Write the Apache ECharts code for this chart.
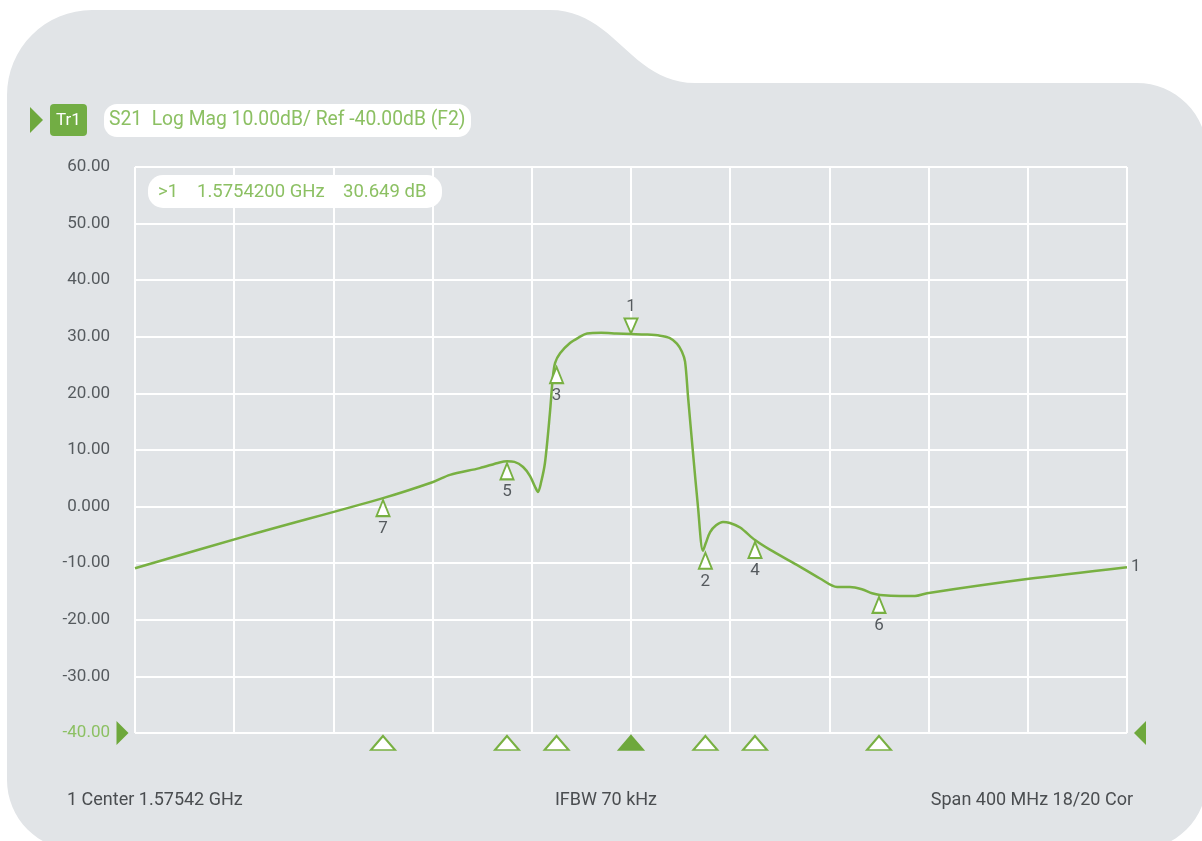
<!DOCTYPE html>
<html>
<head>
<meta charset="utf-8">
<script src="https://cdn.jsdelivr.net/npm/echarts@6/dist/echarts.min.js"></script>
<style>
html,body{margin:0;padding:0;background:#fff;}
#chart{width:1202px;height:841px;}
</style>
</head>
<body>
<div id="chart"></div>
<script>
// ---- data (frequency offset from center in MHz, magnitude in dB) ----
const traceX = [-200, -153.6, -100, -79.8, -73, -61, -53, -50, -47, -43.5, -40.7, -38.7, -37.5, -36.3, -34.7, -32.7, -31.5, -30.6, -28.6, -24.6, -21, -17.7, -12, -6, 0, 6, 11.7, 15.5, 18.5, 20.5, 21.8, 23.0, 25.0, 27.0, 29.0, 30.2, 31.9, 34.3, 37.1, 39.9, 44.0, 50.0, 56.0, 66.9, 76.2, 83.1, 88.3, 93.1, 97.2, 100.4, 108.5, 114.5, 119.4, 159.7, 200];
const traceY = [-10.9, -5.0, 1.5, 4.35, 5.6, 6.8, 7.8, 8.0, 7.9, 7.0, 5.4, 3.5, 2.6, 4.2, 7.7, 16.5, 22.9, 25.4, 27.1, 28.9, 29.9, 30.6, 30.7, 30.6, 30.5, 30.4, 30.2, 29.8, 28.8, 27.4, 25.6, 19.4, 9.5, 0.0, -7.8, -6.4, -4.5, -3.3, -2.7, -2.9, -3.7, -5.9, -7.6, -10.3, -12.7, -14.2, -14.2, -14.6, -15.3, -15.6, -15.8, -15.8, -15.3, -12.8, -10.7];
const markerIds = ['1', '2', '3', '4', '5', '6', '7'];
const markerX = [0, 30, -30, 50, -50, 100, -100];
const markerY = [30.5, -7.8, 25.0, -5.9, 8.0, -15.6, 1.5];
const activeMarker = '1';
const yTicks = [-40, -30, -20, -10, 0, 10, 20, 30, 40, 50, 60];
const headerTrace = 'Tr1';
const headerText = 'S21  Log Mag 10.00dB/ Ref -40.00dB (F2)';
const readoutParts = ['>1', '1.5754200 GHz', '30.649 dB'];
const footerLeft = '1 Center 1.57542 GHz';
const footerMid = 'IFBW 70 kHz';
const footerRight = 'Span 400 MHz 18/20 Cor';

// ---- styles ----
const GREEN = '#78b042';
const DARKGREEN = '#6ea83c';
const LIGHTGREEN = '#8cc063';
const GRAY = '#555a5e';
const PANEL = '#e1e4e7';
const FONT = 'Roboto, "Noto Sans", sans-serif';

// panel outline (decorative background shape)
function panelPoints() {
  const pts = [];
  const arc = (cx, cy, r, a0, a1) => {
    for (let k = 0; k <= 16; k++) {
      const a = a0 + (a1 - a0) * k / 16;
      pts.push([cx + r * Math.cos(a), cy + r * Math.sin(a)]);
    }
  };
  const bez = (p0, p1, p2, p3) => {
    for (let k = 0; k <= 24; k++) {
      const t = k / 24, u = 1 - t;
      pts.push([u*u*u*p0[0] + 3*u*u*t*p1[0] + 3*u*t*t*p2[0] + t*t*t*p3[0],
                u*u*u*p0[1] + 3*u*u*t*p1[1] + 3*u*t*t*p2[1] + t*t*t*p3[1]]);
    }
  };
  arc(92, 95, 85, Math.PI, 1.5 * Math.PI);
  bez([550, 10], [615, 10], [630, 83], [695, 83]);
  arc(1137, 153, 70, 1.5 * Math.PI, 2 * Math.PI);
  arc(1137, 780, 70, 0, 0.5 * Math.PI);
  arc(77, 780, 70, 0.5 * Math.PI, Math.PI);
  return pts;
}

const chart = echarts.init(document.getElementById('chart'), null, {renderer: 'canvas'});

const tracePts = traceX.map((x, i) => [x, traceY[i]]);
const upMarkers = [], downMarkers = [], rowMarkers = [];
markerIds.forEach((id, i) => {
  const p = {name: id, value: [markerX[i], markerY[i]]};
  if (id === activeMarker) downMarkers.push(p); else upMarkers.push(p);
  rowMarkers.push({
    name: id, value: [markerX[i], yTicks[0]],
    itemStyle: id === activeMarker ? {color: DARKGREEN, borderColor: DARKGREEN} : {color: '#fff', borderColor: GREEN}
  });
});

const readoutX = [158, 197, 343];

const option = {
  animation: false,
  backgroundColor: '#ffffff',
  graphic: [
    {type: 'polygon', z: -10, silent: true, shape: {points: panelPoints()}, style: {fill: PANEL}},
    {type: 'polygon', z: 100, shape: {points: [[30, 107], [43, 120], [30, 133]]}, style: {fill: DARKGREEN}},
    {type: 'rect', z: 100, shape: {x: 50, y: 104, width: 37, height: 32, r: 4}, style: {fill: '#72ad44'}},
    {type: 'text', z: 101, x: 68.5, y: 120.5, style: {text: headerTrace, fill: '#fff', font: '17px ' + FONT, align: 'center', verticalAlign: 'middle'}},
    {type: 'rect', z: 100, shape: {x: 104, y: 104, width: 367, height: 33, r: 13}, style: {fill: '#fff'}},
    {type: 'text', z: 101, x: 109, y: 120.5, style: {text: headerText, fill: LIGHTGREEN, font: '19.3px ' + FONT, verticalAlign: 'middle'}},
    {type: 'rect', z: 100, shape: {x: 148, y: 175, width: 294, height: 33, r: 15}, style: {fill: '#fff'}}
  ].concat(readoutParts.map((t, i) => (
    {type: 'text', z: 101, x: readoutX[i], y: 192, style: {text: t, fill: LIGHTGREEN, font: '18.5px ' + FONT, verticalAlign: 'middle'}}
  ))).concat([
    {type: 'text', z: 100, x: 67, y: 800, style: {text: footerLeft, fill: '#4a4d50', font: '18px ' + FONT, verticalAlign: 'middle'}},
    {type: 'text', z: 100, x: 606, y: 800, style: {text: footerMid, fill: '#4a4d50', font: '18px ' + FONT, align: 'center', verticalAlign: 'middle'}},
    {type: 'text', z: 100, x: 1133, y: 800, style: {text: footerRight, fill: '#4a4d50', font: '18px ' + FONT, align: 'right', verticalAlign: 'middle'}}
  ]),
  grid: {left: 135, top: 167, width: 992, height: 566, containLabel: false},
  xAxis: {
    type: 'value', min: -200, max: 200, interval: 40,
    axisLabel: {show: false}, axisTick: {show: false},
    axisLine: {show: true, lineStyle: {color: '#fff', width: 2}},
    splitLine: {show: true, showMinLine: true, showMaxLine: true, lineStyle: {color: '#fff', width: 2}}
  },
  yAxis: {
    type: 'value', min: yTicks[0], max: yTicks[yTicks.length - 1], interval: 10,
    axisTick: {show: false},
    axisLine: {show: true, lineStyle: {color: '#fff', width: 2}},
    splitLine: {show: true, showMinLine: true, showMaxLine: true, lineStyle: {color: '#fff', width: 2}},
    axisLabel: {
      margin: 25, fontSize: 17, fontFamily: FONT, color: GRAY,
      formatter: v => {
        const s = v === 0 ? '0.000' : v.toFixed(2);
        return v === yTicks[0] ? '{g|' + s + '}' : s;
      },
      rich: {g: {color: LIGHTGREEN, fontSize: 17, fontFamily: FONT}}
    }
  },
  series: [
    {
      type: 'line', data: tracePts, smooth: 0.3, showSymbol: false, z: 5,
      lineStyle: {color: GREEN, width: 2.5},
      endLabel: {show: true, formatter: '1', color: GRAY, fontSize: 17, fontFamily: FONT, distance: 4}
    },
    {
      type: 'scatter', data: upMarkers, z: 6, clip: false,
      symbol: 'path://M5,0 L10,10 L0,10 Z', symbolSize: [13, 16], symbolOffset: [0, 10],
      itemStyle: {color: '#fff', borderColor: GREEN, borderWidth: 2, opacity: 1},
      label: {show: true, position: 'bottom', distance: 3, formatter: p => p.name, color: GRAY, fontSize: 17, fontFamily: FONT}
    },
    {
      type: 'scatter', data: downMarkers, z: 6, clip: false,
      symbol: 'path://M0,0 L10,0 L5,10 Z', symbolSize: [13, 15], symbolOffset: [0, -8],
      itemStyle: {color: '#fff', borderColor: GREEN, borderWidth: 2, opacity: 1},
      label: {show: true, position: 'top', distance: 2, formatter: p => p.name, color: GRAY, fontSize: 17, fontFamily: FONT}
    },
    {
      type: 'scatter', data: rowMarkers, z: 6, clip: false,
      symbol: 'path://M5,0 L10,10 L0,10 Z', symbolSize: [24, 14], symbolOffset: [0, 10],
      itemStyle: {borderWidth: 2, opacity: 1}
    },
    {
      type: 'scatter', z: 6, clip: false,
      data: [{value: [-200, yTicks[0]], symbol: 'path://M0,0 L10,10 L0,20 Z', symbolOffset: [-12.5, 0]},
             {value: [200, yTicks[0]], symbol: 'path://M10,0 L0,10 L10,20 Z', symbolOffset: [13, 0]}],
      symbolSize: [12, 24],
      itemStyle: {color: DARKGREEN, opacity: 1}
    }
  ]
};
chart.setOption(option);
</script>
</body>
</html>
